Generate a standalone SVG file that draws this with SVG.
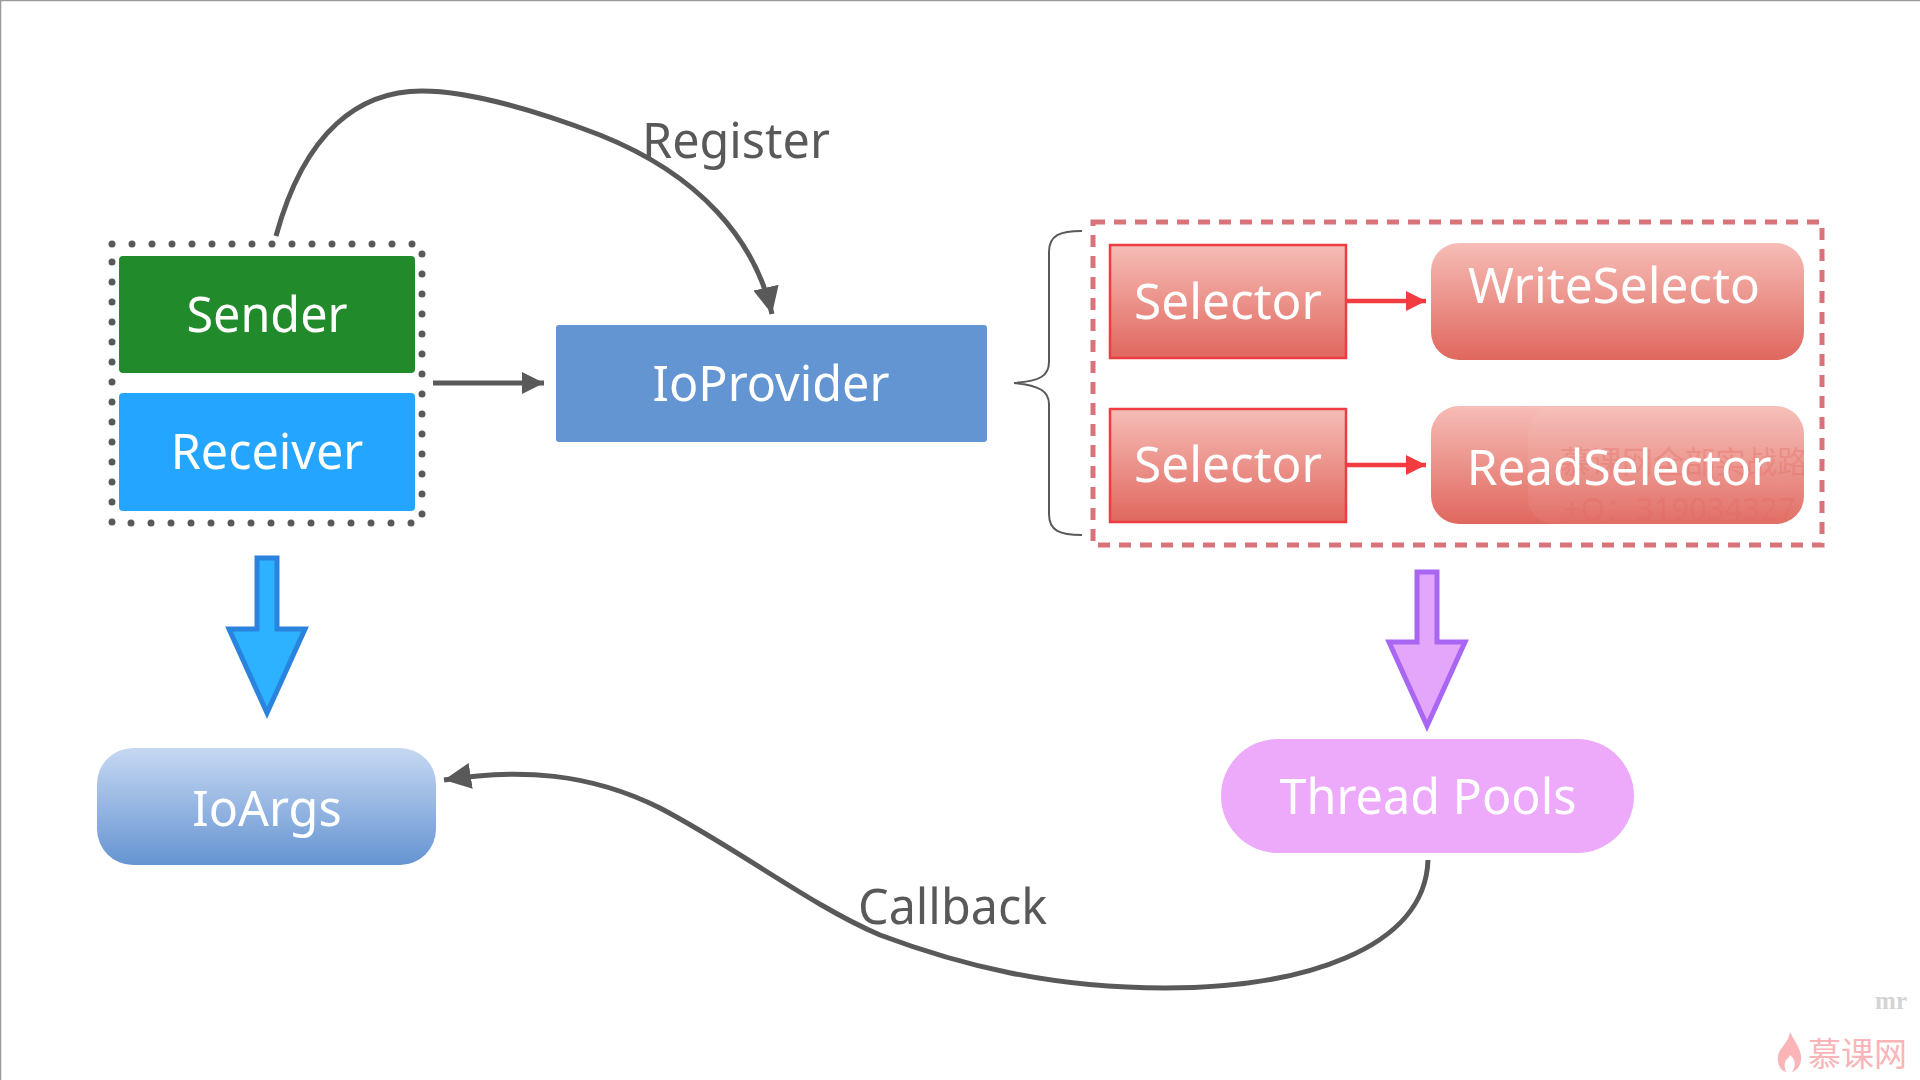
<svg xmlns="http://www.w3.org/2000/svg" width="1920" height="1080" viewBox="0 0 1920 1080">
<style>
.t{font-family:"Noto Sans","Open Sans","Liberation Sans",sans-serif;fill:#fff;text-anchor:middle;font-size:48.5px}
.b{font-size:49.5px}
.l{font-family:"Noto Sans","Open Sans","Liberation Sans",sans-serif;fill:#595959;font-size:48.5px}
.c{fill:none;stroke:#595959;stroke-width:5}
.r{stroke:#ee3c42;stroke-width:2.5;fill:url(#red)}
.rr{stroke:none;fill:url(#red)}
.ra{stroke:#f23c40;stroke-width:4.5;fill:none}
</style>
<defs>
<linearGradient id="red" x1="0" y1="0" x2="0" y2="1"><stop offset="0" stop-color="#f6bdb6"/><stop offset="1" stop-color="#e0675e"/></linearGradient>
<linearGradient id="blue" x1="0" y1="0" x2="0" y2="1"><stop offset="0" stop-color="#c6d8f2"/><stop offset="1" stop-color="#6594d2"/></linearGradient>
<marker id="g" markerUnits="userSpaceOnUse" markerWidth="24" markerHeight="24" refX="22" refY="12" orient="auto"><path d="M0 1L22 12L0 23Z" fill="#595959"/></marker>
<marker id="gl" markerUnits="userSpaceOnUse" markerWidth="30" markerHeight="30" refX="27" refY="14" orient="auto"><path d="M0 1L27 14L0 27Z" fill="#595959"/></marker>
<marker id="rm" markerUnits="userSpaceOnUse" markerWidth="22" markerHeight="22" refX="20" refY="11" orient="auto"><path d="M0 1L20 11L0 21Z" fill="#f23c40"/></marker>
<clipPath id="wm"><rect x="1528" y="406" width="276" height="118" rx="26"/></clipPath>
</defs>
<rect width="1920" height="1080" fill="#fff"/>
<path d="M0.5 1080V0.5H1920" fill="none" stroke="#9a9a9a" stroke-width="1.5"/>

<g id="connectors">
<path class="c" marker-end="url(#gl)" d="M276 236C305 130 360 91 422 91C470 91 540 112 600 135C700 175 755 240 772 314"/>
<path class="c" marker-end="url(#g)" d="M433 383H544"/>
<path class="c" marker-end="url(#gl)" d="M1428 860C1425 950 1300 988 1165 988C1050 988 960 965 880 935C810 905 740 850 660 808C590 773 520 768 444 780"/>
<path class="ra" marker-end="url(#rm)" d="M1347 301H1426"/>
<path class="ra" marker-end="url(#rm)" d="M1347 465H1426"/>
<path d="M1082 231C1060 231 1049 235 1049 252V362C1049 376 1040 381 1014 383C1040 385 1049 392 1049 404V514C1049 531 1060 535 1082 535" fill="none" stroke="#595959" stroke-width="2"/>
</g>

<g id="sender-group"><rect x="112" y="244" width="310" height="279" fill="none" stroke="#595959" stroke-width="7" stroke-linecap="round" stroke-dasharray="0 20"/></g>
<g id="sender"><rect x="119" y="256" width="296" height="117" rx="4" fill="#218b2b"/><text class="t" x="267" y="332">Sender</text></g>
<g id="receiver"><rect x="119" y="393" width="296" height="118" rx="4" fill="#24a5ff"/><text class="t" x="267" y="469">Receiver</text></g>
<g id="ioprovider"><rect x="556" y="325" width="431" height="117" rx="3" fill="#6395d3"/><text class="t" x="771" y="401">IoProvider</text></g>

<g id="selector-group"><rect x="1093" y="222" width="729" height="323" fill="none" stroke="#d9737a" stroke-width="5" stroke-dasharray="12 9"/></g>
<g id="selector-1"><rect class="r" x="1110" y="245" width="236" height="113"/><text class="t b" x="1228" y="319">Selector</text></g>
<g id="write-selector"><rect class="rr" x="1431" y="243" width="373" height="117" rx="28"/><text class="t b" x="1614" y="303">WriteSelecto</text></g>
<g id="selector-2"><rect class="r" x="1110" y="409" width="236" height="113"/><text class="t b" x="1228" y="482">Selector</text></g>
<g id="read-selector"><rect class="rr" x="1431" y="406" width="373" height="118" rx="28"/>
<g clip-path="url(#wm)"><rect x="1528" y="406" width="276" height="118" fill="#fff" opacity=".06"/>
<text x="1560" y="473" font-family="'Noto Sans CJK SC',sans-serif" font-size="31" fill="#e0675e" opacity=".3">慕课网全部实战路径</text>
<text x="1563" y="520" font-family="'Noto Sans','Noto Sans CJK SC',sans-serif" font-size="31" fill="#e0675e" opacity=".3">+Q：319034327</text></g>
<text class="t b" x="1619" y="485">ReadSelector</text></g>

<g id="arrow-ioargs"><path d="M257 558H277V629H305L267 713L229 629H257Z" fill="#2db2ff" stroke="#2a84de" stroke-width="5"/></g>
<g id="arrow-threads"><path d="M1417 572H1437V642H1465L1427 726L1389 642H1417Z" fill="#e3a6fb" stroke="#a866f2" stroke-width="5"/></g>

<g id="ioargs"><rect x="97" y="748" width="339" height="117" rx="36" fill="url(#blue)"/><text class="t" x="267" y="826">IoArgs</text></g>
<g id="thread-pools"><rect x="1221" y="739" width="413" height="114" rx="57" fill="#edaafb"/><text class="t" x="1428" y="814">Thread Pools</text></g>

<text class="l" x="642" y="158">Register</text>
<text class="l" x="858" y="924">Callback</text>

<g id="watermark">
<text x="1907" y="1009" text-anchor="end" font-family="'Liberation Serif',serif" font-weight="bold" font-size="25" fill="#d4d4d4">mr</text>
<path d="M1790 1032C1796 1044 1802 1050 1801 1060C1800 1068 1795 1071 1792 1072C1796 1066 1796 1060 1790 1055C1788 1060 1782 1060 1786 1072C1780 1070 1777 1064 1778 1056C1779 1048 1788 1044 1790 1032Z" fill="#fbb4b8"/>
<text x="1808" y="1066" font-family="'Noto Sans CJK SC',sans-serif" font-size="33" fill="#fbb4b8">慕课网</text>
</g>
</svg>
